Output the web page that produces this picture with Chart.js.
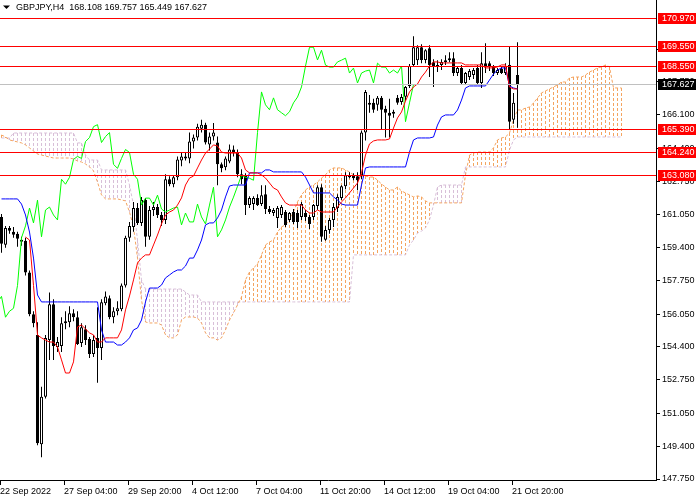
<!DOCTYPE html>
<html lang="en">
<head>
    <meta charset="UTF-8" />
    <title>GBPJPY,H4</title>
    <script src="https://cdn.jsdelivr.net/npm/chart.js"></script>
    <style>
        html, body { margin: 0; padding: 0; background: #fff; }
    </style>
</head>
<body>
    <canvas id="chart" width="700" height="500"></canvas>

    <script>
        const symbol = 'GBPJPY,H4';

        // H4 candles, one entry per bar
        const opens = [
            160.95,159.55,160.40,160.20,160.10,159.80,159.75,158.15,156.05,155.00,
            149.50,151.90,154.75,156.55,154.40,154.45,155.60,155.65,156.10,155.90,
            154.60,155.30,154.80,154.05,154.85,154.35,156.60,156.85,155.90,156.20,
            156.30,157.50,159.90,160.45,161.40,160.65,161.80,159.95,161.30,161.45,
            161.05,160.80,162.85,162.60,162.95,163.80,164.00,163.90,164.75,164.95,
            165.40,165.60,164.60,165.00,164.70,163.60,163.45,163.75,164.35,164.20,
            163.10,163.05,161.55,161.60,161.90,161.60,162.10,161.35,161.15,160.90,
            161.05,161.20,160.80,161.20,161.15,160.95,161.15,160.95,160.95,161.50,
            162.45,159.80,160.30,160.80,161.40,161.90,162.50,163.05,163.05,163.00,
            163.05,165.20,166.70,166.70,166.60,166.95,166.40,166.20,166.15,166.95,
            166.74,167.00,167.55,168.60,168.85,169.50,168.86,169.45,168.75,168.60,
            168.60,168.76,168.85,168.95,168.20,168.45,167.70,168.00,168.10,168.45,
            167.70,168.70,168.70,168.50,168.20,168.40,168.20,168.60,165.85,168.108
        ];
        const highs = [
            161.10,160.50,160.50,160.45,160.20,159.95,159.90,158.25,156.20,155.65,
            152.40,155.00,157.15,156.80,154.90,155.90,156.20,156.45,156.30,156.20,
            155.60,155.50,154.90,155.00,156.40,156.80,157.20,157.00,156.40,156.70,
            157.60,160.00,160.70,161.70,161.65,161.95,161.90,161.50,161.70,161.60,
            161.20,163.10,163.00,163.05,164.00,164.20,164.20,165.20,165.10,165.65,
            165.85,165.70,165.20,165.68,165.00,163.70,164.00,164.60,164.55,164.35,
            163.35,163.15,162.00,162.00,162.10,162.55,162.55,161.50,161.40,161.50,
            161.55,161.30,161.20,161.35,161.30,161.70,161.30,161.05,161.60,162.55,
            162.60,160.50,160.90,161.65,162.10,162.55,163.20,163.20,163.15,163.20,
            165.30,167.35,167.10,166.90,167.05,167.05,166.55,166.90,166.35,167.10,
            167.15,167.55,168.65,170.05,169.60,169.65,169.40,169.60,168.90,168.85,
            168.90,169.10,169.25,169.25,168.55,168.60,168.25,168.40,168.45,168.60,
            169.25,169.70,168.80,168.60,168.45,168.50,168.70,169.55,167.20,169.757
        ];
        const lows = [
            159.15,159.40,160.10,159.90,159.45,159.50,158.00,155.95,155.40,149.45,
            148.85,151.80,153.75,153.75,154.15,154.15,155.30,155.40,155.70,154.50,
            154.40,154.50,153.85,153.90,152.60,153.75,156.50,155.80,155.60,156.00,
            156.20,157.40,159.70,160.20,160.55,160.50,159.45,159.80,161.00,160.90,
            160.50,160.60,162.50,162.45,162.80,163.50,163.80,163.65,164.40,164.80,
            165.20,164.60,164.30,164.80,162.55,163.20,163.30,163.65,164.00,162.95,
            162.60,161.05,161.40,161.30,161.50,161.50,161.10,161.10,161.00,160.40,
            160.90,160.45,160.70,160.60,160.40,160.80,160.75,160.35,160.80,161.30,
            159.70,159.75,160.10,160.45,161.20,161.80,162.35,162.90,162.80,162.30,
            162.85,164.80,166.20,166.20,166.30,165.35,164.95,164.95,165.95,166.60,
            166.60,166.80,167.45,168.50,168.60,168.70,168.70,168.00,167.50,168.25,
            168.35,168.60,168.75,168.05,168.05,167.60,167.60,167.85,167.90,167.60,
            167.45,168.20,168.30,168.05,168.10,168.15,168.10,165.35,165.65,165.449
        ];
        const closes = [
            159.60,160.40,160.25,160.05,159.85,159.70,158.15,156.05,155.60,149.55,
            151.90,154.85,156.55,154.45,154.65,155.60,155.70,156.10,155.90,154.55,
            155.40,154.75,154.05,154.75,154.35,156.65,156.95,155.90,156.20,156.35,
            157.50,159.90,160.50,161.40,160.65,161.80,159.95,161.30,161.45,161.05,
            160.80,162.85,162.60,162.95,163.85,164.00,163.90,164.75,164.95,165.50,
            165.60,164.70,165.00,165.20,163.60,163.40,163.90,164.35,164.20,163.10,
            162.85,161.55,161.90,161.90,161.55,162.05,161.35,161.20,161.30,161.40,
            161.45,160.55,161.15,160.70,160.70,161.60,160.95,160.60,161.55,162.45,
            159.95,160.30,160.80,161.45,161.95,162.50,163.05,162.95,162.90,162.80,
            165.20,167.25,166.60,166.35,166.95,166.35,166.20,166.05,166.25,166.70,
            166.99,167.50,168.55,169.50,169.50,168.86,169.35,168.60,168.50,168.50,
            168.76,168.85,168.95,168.20,168.45,167.70,168.20,168.30,168.35,167.70,
            168.70,168.50,168.50,168.20,168.35,168.20,168.55,165.75,166.70,167.627
        ];

        // Ichimoku lines (null = not drawn)
        const tenkan = [
            null,null,null,null,null,null,159.94,159.79,157.50,155.00,
            154.86,154.75,154.65,154.65,154.40,153.75,153.09,153.09,153.65,155.41,
            155.51,155.31,155.11,155.01,154.65,154.65,154.86,154.86,154.86,154.86,
            155.26,156.27,156.97,157.78,158.63,158.88,159.04,159.04,159.54,160.04,
            160.60,161.05,161.20,161.30,161.55,161.91,162.56,162.91,163.01,163.42,
            163.82,164.17,164.37,164.58,164.53,164.22,164.17,164.17,164.17,164.17,
            163.92,163.32,163.17,163.17,163.17,163.07,162.91,162.66,162.41,162.31,
            161.96,161.66,161.55,161.55,161.55,161.55,161.30,161.15,161.15,161.30,
            161.20,161.20,161.20,161.20,161.45,161.71,161.91,162.16,162.41,162.66,
            163.17,164.07,164.63,164.78,164.83,164.83,164.83,164.88,165.43,165.94,
            166.24,166.79,167.25,167.50,167.65,168.00,168.25,168.56,168.76,168.76,
            168.71,168.71,168.71,168.71,168.71,168.71,168.61,168.61,168.61,168.61,
            168.61,168.46,168.46,168.46,168.51,168.61,168.61,167.50,167.40,167.40
        ];
        const kijun = [
            161.86,161.86,161.86,161.86,161.86,161.60,161.05,160.19,158.88,157.02,
            156.67,156.67,156.67,156.67,156.67,156.67,156.67,156.67,156.67,156.67,
            156.67,156.67,156.67,156.67,156.67,155.26,154.65,154.65,154.65,154.50,
            154.50,154.65,154.86,155.26,155.36,155.76,156.67,157.37,157.37,157.37,
            157.52,157.88,158.03,158.18,158.28,158.28,158.48,158.88,158.88,159.29,
            159.79,160.55,160.65,160.65,160.90,161.30,161.96,162.51,162.56,162.56,
            162.56,162.56,163.17,163.17,163.17,163.17,163.32,163.32,163.22,163.22,
            163.22,163.22,163.22,163.22,163.22,163.22,162.96,162.56,162.16,162.16,
            162.16,162.16,162.16,161.96,161.81,161.60,161.55,161.55,161.55,161.55,
            162.56,163.42,163.47,163.47,163.47,163.47,163.47,163.47,163.47,163.47,
            163.47,163.47,164.22,164.83,164.93,164.93,164.93,164.93,164.98,165.58,
            165.99,166.09,166.09,166.09,166.34,166.84,167.45,167.55,167.55,167.55,
            167.55,167.55,167.85,168.15,168.35,168.46,168.46,167.55,167.45,167.40
        ];
        // cloud, already shifted forward: 26 bars past the last candle
        const spanA = [
            165.08,164.98,164.83,164.78,164.73,164.68,164.58,164.43,164.27,164.12,
            164.07,164.02,163.97,163.92,163.92,163.92,163.92,163.92,163.87,163.77,
            163.72,163.62,163.47,163.27,162.71,162.06,161.86,161.86,161.86,161.86,
            161.81,161.76,161.20,160.45,158.88,156.77,155.66,155.61,155.61,155.61,
            155.51,155.01,154.86,154.86,155.01,155.76,155.91,155.91,155.91,155.86,
            155.61,155.11,154.86,154.86,154.75,154.86,155.26,155.76,156.12,156.52,
            156.92,157.78,158.18,158.38,158.58,159.04,159.54,159.69,159.79,160.19,
            160.45,160.55,160.80,161.20,161.71,162.06,162.31,162.46,162.56,162.71,
            162.91,163.07,163.32,163.42,163.42,163.42,163.32,163.22,163.07,163.01,
            163.01,163.01,162.96,162.96,162.81,162.61,162.46,162.31,162.31,162.46,
            162.26,162.16,162.06,161.96,162.01,161.96,161.76,161.66,161.66,161.66,
            161.66,161.66,161.66,161.66,161.66,161.66,163.07,164.07,164.17,164.22,
            164.22,164.22,164.22,164.43,164.83,164.93,164.98,165.18,165.84,166.34,
            166.34,166.44,166.49,166.69,166.94,167.20,167.30,167.40,167.50,167.60,
            167.75,167.75,167.95,168.00,168.00,168.00,168.10,168.25,168.35,168.46,
            168.51,168.61,168.51,167.45,167.45,167.45
        ];
        const spanB = [
            164.93,164.93,164.93,165.18,165.18,165.18,165.18,165.18,165.18,165.18,
            165.18,165.18,165.18,165.18,165.18,165.18,165.18,165.18,165.18,164.68,
            164.68,164.07,163.82,163.82,163.82,163.32,163.32,163.32,163.32,163.32,
            163.32,163.32,162.56,161.55,159.79,157.78,157.32,157.32,157.32,157.32,
            157.32,157.32,157.32,157.32,157.32,157.32,157.17,157.02,157.02,157.02,
            156.67,156.67,156.67,156.67,156.67,156.67,156.67,156.67,156.67,156.67,
            156.67,156.67,156.67,156.67,156.67,156.67,156.67,156.67,156.67,156.67,
            156.67,156.67,156.67,156.67,156.67,156.67,156.67,156.67,156.67,156.67,
            156.67,156.67,156.67,156.67,156.67,156.67,156.67,156.67,159.04,159.04,
            159.04,159.04,159.04,159.04,159.04,159.04,159.04,159.04,159.04,159.04,
            159.04,159.04,159.54,159.79,160.14,160.24,160.40,160.80,161.55,162.46,
            162.56,162.56,162.56,162.56,162.56,162.56,163.47,163.47,163.47,163.47,
            163.47,163.47,163.47,163.47,163.47,163.47,163.47,164.32,164.83,164.98,
            164.98,164.98,164.98,164.98,164.98,164.98,164.98,164.98,164.98,164.98,
            164.98,164.98,164.98,164.98,164.98,164.98,164.98,164.98,164.98,164.98,
            164.98,164.98,164.98,164.98,164.98,164.98
        ];
        const chikouShift = 26;

        // horizontal levels drawn on the chart
        const levels = [170.970, 169.550, 168.550, 165.390, 164.240, 163.080];

        const yTicks = [147.75, 149.40, 151.05, 152.75, 154.40, 156.05, 157.75,
                        159.40, 161.05, 162.75, 164.40, 166.10, 167.75, 169.40];
        const timeLabels = ['22 Sep 2022', '27 Sep 04:00', '29 Sep 20:00', '4 Oct 12:00', '7 Oct 04:00',
                            '11 Oct 20:00', '14 Oct 12:00', '19 Oct 04:00', '21 Oct 20:00'];
        const labelEvery = 16;

        // visible window: 164 bars, price range of the pane
        const xMin = -0.375, xMax = 163.625;
        const yMin = 147.70, yMax = 171.88;

        const upColor = '#f4a460';    // sandy brown, span A above
        const downColor = '#d8bfd8';  // thistle, span B above

        const canvas = document.getElementById('chart');
        const context = canvas.getContext('2d');
        const font = '"Liberation Sans", Arial, sans-serif';
        Chart.defaults.font.family = font;
        Chart.defaults.font.size = 9;
        Chart.defaults.color = '#000';

        const bars = closes.map((c, i) => i);
        const lastBar = closes.length - 1;
        const lastPrice = closes[lastBar];
        const fmt = v => v.toFixed(3);
        const toPoints = (arr, shift = 0) =>
            arr.map((v, i) => ({ x: i + shift, y: v })).filter(p => p.y !== null);

        // MT4 style cloud: one dotted vertical line per bar between the spans
        const cloudHatch = {
            id: 'cloudHatch',
            beforeDatasetsDraw(chart) {
                const { ctx, chartArea: a, scales: { x, y } } = chart;
                ctx.save();
                ctx.beginPath();
                ctx.rect(a.left, a.top, a.width, a.height);
                ctx.clip();
                ctx.lineWidth = 1;
                ctx.setLineDash([3, 2]);
                spanA.forEach((va, i) => {
                    const vb = spanB[i];
                    const px = x.getPixelForValue(i);
                    const y1 = y.getPixelForValue(Math.max(va, vb));
                    const y2 = y.getPixelForValue(Math.min(va, vb));
                    ctx.strokeStyle = va >= vb ? upColor : downColor;
                    ctx.beginPath();
                    ctx.moveTo(px, Math.round(y1));
                    ctx.lineTo(px, Math.round(y2));
                    ctx.stroke();
                });
                ctx.restore();
            }
        };

        const overlay = {
            id: 'overlay',
            afterDatasetsDraw(chart) {
                const { ctx, chartArea: a, scales: { y } } = chart;
                ctx.save();
                ctx.lineWidth = 1;
                const hline = (v, color) => {
                    const py = Math.round(y.getPixelForValue(v)) + 0.5;
                    ctx.strokeStyle = color;
                    ctx.beginPath();
                    ctx.moveTo(a.left, py);
                    ctx.lineTo(a.right, py);
                    ctx.stroke();
                };
                hline(lastPrice, '#c0c0c0');
                levels.forEach(v => hline(v, '#ff0000'));
                ctx.restore();
            },
            afterDraw(chart) {
                const { ctx, chartArea: a, scales: { y } } = chart;
                ctx.save();
                ctx.font = '9px ' + font;
                ctx.textBaseline = 'middle';
                const tag = (v, bg) => {
                    const py = Math.round(y.getPixelForValue(v));
                    ctx.fillStyle = bg;
                    ctx.fillRect(a.right + 2, py - 5, 38, 11);
                    ctx.fillStyle = '#fff';
                    ctx.fillText(fmt(v), a.right + 6, py + 0.5);
                };
                levels.forEach(v => tag(v, '#ff0000'));
                tag(lastPrice, '#000');

                ctx.fillStyle = '#000';
                ctx.beginPath();
                ctx.moveTo(3, 5.5);
                ctx.lineTo(10, 5.5);
                ctx.lineTo(6.5, 9);
                ctx.closePath();
                ctx.fill();
                const ohlc = [opens, highs, lows, closes].map(s => fmt(s[lastBar])).join(' ');
                ctx.fillText(symbol + '  ' + ohlc, 16, 7.5);
                ctx.restore();
            }
        };

        new Chart(context, {
            type: 'line',
            data: {
                datasets: [
                    { label: 'Tenkan-sen', data: toPoints(tenkan), borderColor: '#ff0000', order: 1 },
                    { label: 'Kijun-sen', data: toPoints(kijun), borderColor: '#0000ff', order: 2 },
                    { label: 'Chikou Span', data: toPoints(closes, -chikouShift), borderColor: '#00ff00', order: 3 },
                    {
                        type: 'bar', label: 'Body',
                        data: bars.map(i => ({ x: i, y: [opens[i], closes[i]] })),
                        backgroundColor: bars.map(i => closes[i] >= opens[i] ? '#ffffff' : '#000000'),
                        borderColor: '#000', borderWidth: 1, borderSkipped: false,
                        barThickness: 3, minBarLength: 1, grouped: false, inflateAmount: 0, order: 4
                    },
                    {
                        type: 'bar', label: 'Wick',
                        data: bars.map(i => ({ x: i, y: [lows[i], highs[i]] })),
                        backgroundColor: '#000', borderWidth: 0,
                        barThickness: 1, grouped: false, inflateAmount: 0, order: 5
                    },
                    { label: 'Senkou Span A', data: toPoints(spanA), borderColor: upColor, borderDash: [3, 2], order: 6 },
                    { label: 'Senkou Span B', data: toPoints(spanB), borderColor: downColor, borderDash: [3, 2], order: 7 }
                ]
            },
            options: {
                responsive: false,
                animation: false,
                devicePixelRatio: 1,
                events: [],
                layout: { padding: 0, autoPadding: false },
                elements: {
                    line: { borderWidth: 1, tension: 0, fill: false },
                    point: { radius: 0, hitRadius: 0 }
                },
                plugins: {
                    legend: { display: false },
                    tooltip: { enabled: false }
                },
                scales: {
                    x: {
                        type: 'linear', min: xMin, max: xMax, offset: false, bounds: 'data',
                        grid: { offset: false, drawOnChartArea: false, drawTicks: true, tickLength: 5, color: '#000' },
                        border: { display: true, color: '#000' },
                        ticks: {
                            autoSkip: false, maxRotation: 0, align: 'start', padding: 1, color: '#000',
                            callback: (v, i) => timeLabels[i]
                        },
                        afterBuildTicks: s => { s.ticks = timeLabels.map((t, i) => ({ value: i * labelEvery + xMin })); },
                        afterFit: s => { s.height = 20; s.paddingLeft = 0; s.paddingRight = 0; }
                    },
                    y: {
                        type: 'linear', position: 'right', min: yMin, max: yMax, bounds: 'data', beginAtZero: false,
                        grid: { drawOnChartArea: false, drawTicks: true, tickLength: 4, color: '#000' },
                        border: { display: true, color: '#000' },
                        ticks: { autoSkip: false, padding: 2, color: '#000', callback: v => v.toFixed(3) },
                        afterBuildTicks: s => { s.ticks = yTicks.map(v => ({ value: v })); },
                        afterFit: s => { s.width = 44; s.paddingTop = 0; s.paddingBottom = 0; }
                    }
                }
            },
            plugins: [cloudHatch, overlay]
        });
    </script>
</body>
</html>
